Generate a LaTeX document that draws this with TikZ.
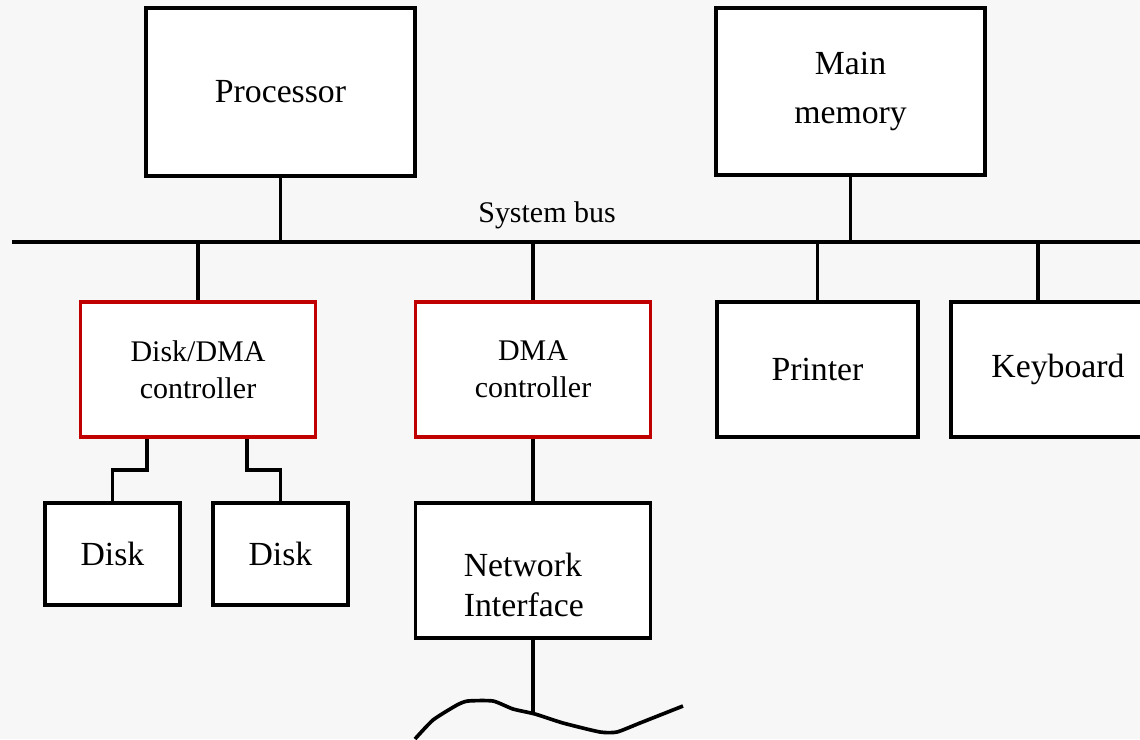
\documentclass[tikz,border=0pt]{standalone}
\usepackage{fontspec}
\setmainfont{Liberation Serif}
\definecolor{ctrlred}{RGB}{192,0,0}
\definecolor{paper}{RGB}{247,247,247}

\begin{document}
\begin{tikzpicture}[x=0.025cm, y=-0.025cm, line width=2.6pt,
    unit/.style={draw, fill=white, align=center, font=\fontsize{24}{35}\selectfont},
    ctrl/.style={unit, draw=ctrlred, font=\fontsize{21.3}{26.3}\selectfont}]
\fill[paper] (0,0) rectangle (1140,739);
\useasboundingbox (0,0) rectangle (1140,739);

% bus
\coordinate (busL) at (12,242);
\coordinate (busR) at (1140,242);
\draw (busL) -- (busR);
\node [font=\fontsize{21.3}{26}\selectfont] (buslabel) at (547,215) {System bus};

\node [unit, minimum width=6.725cm, minimum height=4.2cm] (proc) at (280.5,92) {Processor};
\node [unit, minimum width=6.725cm, minimum height=4.175cm] (mem) at (850.5,91.5) {Main\\memory};
\node [ctrl, minimum width=5.875cm, minimum height=3.375cm] (dmc) at (198,369.5) {Disk/DMA\\controller};
\node [ctrl, minimum width=5.875cm, minimum height=3.375cm] (dma) at (533,369.5) {DMA\\controller};
\node [unit, minimum width=5.025cm, minimum height=3.375cm] (prn) at (817.5,369.5) {Printer};
\node [unit, minimum width=5.35cm, minimum height=3.375cm] (kbd) at (1058,369.5) {Keyboard};
\node [unit, minimum width=3.375cm, minimum height=2.55cm] (disk1) at (112.5,554) {Disk};
\node [unit, minimum width=3.375cm, minimum height=2.55cm] (disk2) at (280.5,554) {Disk};
\node [unit, minimum width=5.875cm, minimum height=3.375cm] (net) at (533,570.5) {};
\node [align=left, anchor=north west, inner sep=0pt, font=\fontsize{24}{28.4}\selectfont]
    (nettxt) at (462,551) {Network\\Interface};

% taps on the bus
\coordinate (kbtap) at (1038,242);
\draw (proc.south) -- (proc.south |- busL);
\draw (mem.south) -- (mem.south |- busL);
\draw (dmc.north |- busL) -- (dmc.north);
\draw (dma.north |- busL) -- (dma.north);
\draw (prn.north |- busL) -- (prn.north);
\draw (kbtap) -- (kbtap |- kbd.north);

% disks
\coordinate (j1) at (147,470);
\coordinate (j2) at (247,470);
\draw (dmc.south -| j1) -- (j1) -| (disk1.north);
\draw (dmc.south -| j2) -- (j2) -| (disk2.north);

% network
\coordinate (wire) at (535,714);
\draw (dma.south) -- (net.north);
\draw (net.south) -- (net.south |- wire);
\draw [line join=round] plot [smooth, tension=0.35] coordinates {(415,739) (433,720) (457,705)
    (468,701) (493,701) (513,709) (535,714) (563,723) (600,732) (617,732) (640,723) (683,706)};
\end{tikzpicture}
\end{document}
